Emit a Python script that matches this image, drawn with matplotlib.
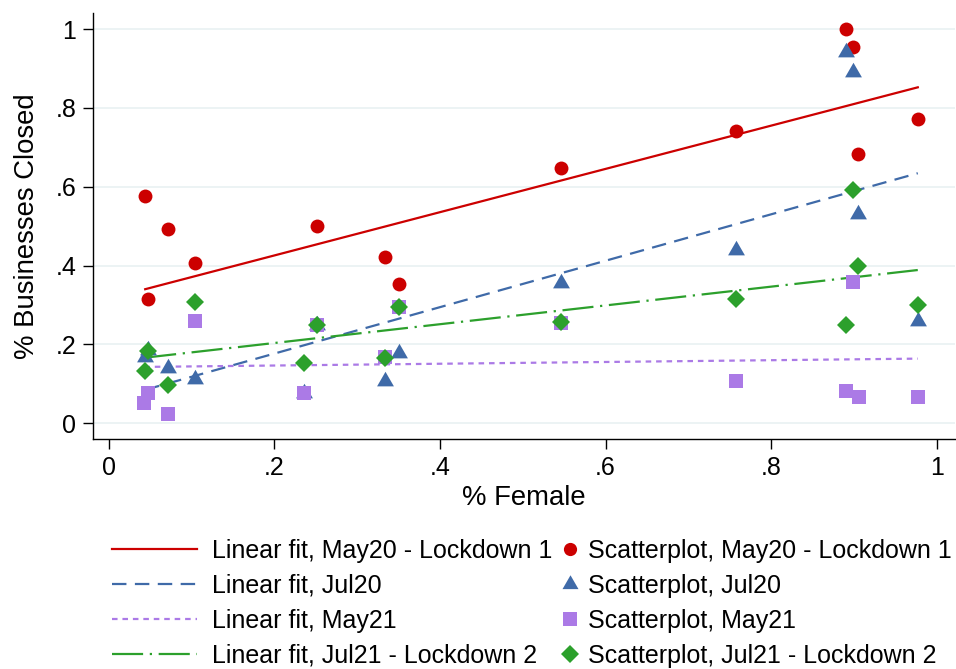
import numpy as np
import matplotlib
matplotlib.use("Agg")
import matplotlib.pyplot as plt
from matplotlib.lines import Line2D

plt.rcParams['font.family'] = ['Liberation Sans', 'DejaVu Sans']

# ---- data ----
x_may20 = [0.044, 0.047, 0.071, 0.104, 0.251, 0.334, 0.351, 0.546, 0.758, 0.890, 0.899, 0.905, 0.977]
y_may20 = [0.577, 0.316, 0.494, 0.407, 0.500, 0.421, 0.353, 0.647, 0.742, 1.000, 0.955, 0.684, 0.772]

x_jul20 = [0.044, 0.047, 0.071, 0.104, 0.236, 0.251, 0.334, 0.351, 0.546, 0.758, 0.890, 0.899, 0.905, 0.977]
y_jul20 = [0.168, 0.185, 0.139, 0.113, 0.077, 0.250, 0.107, 0.178, 0.356, 0.439, 0.942, 0.892, 0.530, 0.260]

x_may21 = [0.043, 0.047, 0.071, 0.104, 0.236, 0.251, 0.334, 0.351, 0.546, 0.758, 0.890, 0.899, 0.906, 0.977]
y_may21 = [0.052, 0.077, 0.023, 0.260, 0.077, 0.250, 0.168, 0.294, 0.255, 0.107, 0.082, 0.359, 0.067, 0.067]

x_jul21 = [0.044, 0.047, 0.071, 0.104, 0.236, 0.251, 0.334, 0.351, 0.546, 0.758, 0.890, 0.899, 0.905, 0.977]
y_jul21 = [0.133, 0.184, 0.098, 0.307, 0.153, 0.249, 0.166, 0.294, 0.257, 0.315, 0.249, 0.591, 0.399, 0.300]

# linear fit coefficients (intercept, slope)
fit_may20 = (0.316, 0.549)
fit_jul20 = (0.059, 0.589)
fit_may21 = (0.142, 0.0225)
fit_jul21 = (0.156, 0.2383)

labels = ["May20 - Lockdown 1", "Jul20", "May21", "Jul21 - Lockdown 2"]
xticks = [0, 0.2, 0.4, 0.6, 0.8, 1.0]
xticklabels = ["0", ".2", ".4", ".6", ".8", "1"]
yticks = [0, 0.2, 0.4, 0.6, 0.8, 1.0]
yticklabels = ["0", ".2", ".4", ".6", ".8", "1"]

# ---- styles ----
c_red = "#cc0000"
c_blue = "#3f6aa8"
c_purple = "#ab7ae6"
c_green = "#2ca02c"

tri = [(0, 0.577), (-0.5, -0.289), (0.5, -0.289)]

series = [
    (x_may20, y_may20, fit_may20, c_red, 'o', 10, None),
    (x_jul20, y_jul20, fit_jul20, c_blue, tri, 14, (0, (6.5, 3.8))),
    (x_may21, y_may21, fit_may21, c_purple, 's', 10.3, (0, (2.5, 2.2))),
    (x_jul21, y_jul21, fit_jul21, c_green, 'D', 9.4, (0, (14, 3, 1, 3))),
]

fig = plt.figure(figsize=(9.56, 6.69), dpi=100)
ax = fig.add_axes([0.0973, 0.3434, 0.9017, 0.6372])

line_handles = []
marker_handles = []
for (xs, ys, fit, col, mk, ms, dash), lab in zip(series, labels):
    xs = np.asarray(xs)
    xf = np.array([xs.min(), xs.max()])
    yf = fit[0] + fit[1] * xf
    kw = dict(color=col, lw=1.6)
    if dash is not None:
        kw['linestyle'] = dash
    ax.plot(xf, yf, zorder=3, **kw)
    line_handles.append(Line2D([], [], label="Linear fit, " + lab, **kw))

for (xs, ys, fit, col, mk, ms, dash), lab in zip(series, labels):
    ax.plot(xs, ys, linestyle='none', marker=mk, markersize=ms, color=col,
            markeredgewidth=0, zorder=4)
    marker_handles.append(Line2D([], [], linestyle='none', marker=mk,
                                 markersize=ms * 0.95, color=col,
                                 markeredgewidth=0,
                                 label="Scatterplot, " + lab))

ax.set_xlim(-0.019, 1.022)
ax.set_ylim(-0.0406, 1.041)
ax.set_xticks(xticks)
ax.set_xticklabels(xticklabels)
ax.set_yticks(yticks)
ax.set_yticklabels(yticklabels)
ax.tick_params(axis='both', labelsize=18, length=7.5, width=1.0, pad=4.5,
               color='black')
for s in ['top', 'right']:
    ax.spines[s].set_visible(False)
for s in ['left', 'bottom']:
    ax.spines[s].set_linewidth(1.0)
ax.yaxis.grid(True, color='#eaf2f3', lw=1.3)
ax.set_axisbelow(True)

ax.set_xlabel("% Female", fontsize=19.8, labelpad=4)
ax.set_ylabel("% Businesses Closed", fontsize=19.8, labelpad=11)

leg1 = fig.legend(handles=line_handles, loc='upper left',
                  bbox_to_anchor=(0.1174, 0.195), frameon=False, fontsize=18,
                  handlelength=3.4, handletextpad=0.6, labelspacing=0.44,
                  borderaxespad=0, borderpad=0)
leg2 = fig.legend(handles=marker_handles, loc='upper left',
                  bbox_to_anchor=(0.5855, 0.195), frameon=False, fontsize=18,
                  handlelength=0.8, handletextpad=0.35, labelspacing=0.44,
                  borderaxespad=0, borderpad=0)

fig.savefig("out.png", dpi=100)
